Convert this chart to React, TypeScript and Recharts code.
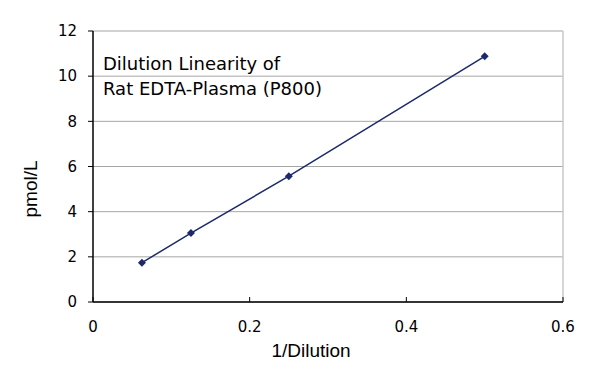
import { ScatterChart, Scatter, XAxis, YAxis, CartesianGrid, ReferenceLine } from "recharts";

// 1/Dilution vs measured concentration
const dilution = [0.0625, 0.125, 0.25, 0.5];
const pmolPerL = [1.74, 3.05, 5.57, 10.88];
const xTicks = [0, 0.2, 0.4, 0.6];
const yTicks = [0, 2, 4, 6, 8, 10, 12];
const titleLines = ["Dilution Linearity of", "Rat EDTA-Plasma (P800)"];

const points = dilution.map((x, i) => ({ x, y: pmolPerL[i] }));

const WIDE = "DejaVu Sans, sans-serif";
const FONT = "Liberation Sans, Arial, sans-serif";
const NAVY = "#1c2a6b";

// small square diamond marker
const Diamond = (props: any) => {
  const { cx, cy } = props;
  const r = 4;
  return <polygon points={`${cx},${cy - r} ${cx + r},${cy} ${cx},${cy + r} ${cx - r},${cy}`} fill={NAVY} />;
};

export default function App() {
  return (
    <div style={{ position: "absolute", left: 0, top: 0, width: 600, height: 383, background: "#fff" }}>
      <ScatterChart width={600} height={383} margin={{ top: 31, right: 37, bottom: 0, left: 0 }}>
        <CartesianGrid vertical={false} stroke="#a6a6a6" strokeWidth={1} />
        <XAxis
          type="number"
          dataKey="x"
          domain={[0, 0.6]}
          ticks={xTicks}
          tickFormatter={(v: number) => String(v)}
          tickSize={-5}
          tickMargin={24}
          height={81}
          tick={{ fill: "#000", fontSize: 15, fontFamily: WIDE }}
          axisLine={{ stroke: "#000", strokeWidth: 1.5 }}
          tickLine={{ stroke: "#000" }}
        />
        <YAxis
          type="number"
          dataKey="y"
          domain={[0, 12]}
          ticks={yTicks}
          width={93}
          tickSize={5}
          tickMargin={11}
          tick={{ fill: "#000", fontSize: 15, fontFamily: WIDE }}
          axisLine={{ stroke: "#000", strokeWidth: 1.5 }}
          tickLine={{ stroke: "#000" }}
        />
        <ReferenceLine x={0.6} stroke="#c8c8c8" strokeWidth={1.5} />
        <Scatter
          data={points}
          fill={NAVY}
          shape={Diamond}
          line={{ stroke: NAVY, strokeWidth: 1.5 }}
          isAnimationActive={false}
        />
        <text x={311} y={357} textAnchor="middle" fontSize={19} fontFamily={FONT} fill="#000">
          1/Dilution
        </text>
        <text
          x={30}
          y={189}
          textAnchor="middle"
          dominantBaseline="central"
          fontSize={19}
          fontFamily={FONT}
          fill="#000"
          transform="rotate(-90 30 189)"
        >
          pmol/L
        </text>
        {titleLines.map((t, i) => (
          <text key={t} x={103} y={70 + i * 25} fontSize={18} fontFamily={WIDE} fill="#000">
            {t}
          </text>
        ))}
      </ScatterChart>
    </div>
  );
}
